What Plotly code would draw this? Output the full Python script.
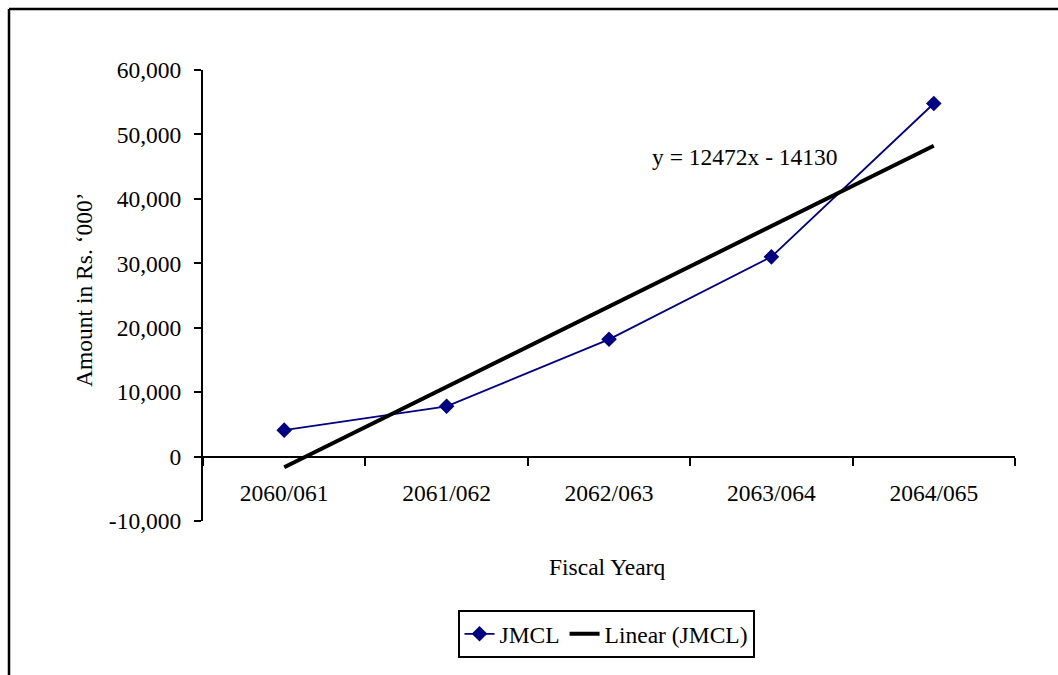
import plotly.graph_objects as go

# Fiscal years and JMCL amounts (Rs. '000')
years = ["2060/061", "2061/062", "2062/063", "2063/064", "2064/065"]
jmcl = [4100, 7800, 18200, 31000, 54800]

# Linear trend as stated in the equation label
slope = 12472
intercept = -14130
trend = [slope * (i + 1) + intercept for i in range(len(years))]

# Value axis ticks
y_ticks = [-10000, 0, 10000, 20000, 30000, 40000, 50000, 60000]
y_tick_text = ["-10,000", "0", "10,000", "20,000", "30,000", "40,000", "50,000", "60,000"]

FONT = "Liberation Serif"
FS = 23.5
W, H = 1058, 675
L, R, T, B = 203, 43, 70, 154
Y_MIN, Y_MAX = -10000, 60000

fig = go.Figure()
fig.add_trace(go.Scatter(
    x=years, y=jmcl, name="JMCL", mode="lines+markers",
    line=dict(color="#000080", width=1.8),
    marker=dict(symbol="diamond", size=12, color="#000080"),
))
fig.add_trace(go.Scatter(
    x=years, y=trend, name="Linear (JMCL)", mode="lines",
    line=dict(color="black", width=4),
))

pw = W - L - R
ph = H - T - B
def px_x(p):
    return (p - L) / pw
def px_y(p):
    return (H - B - p) / ph

fig.update_layout(
    width=W, height=H,
    margin=dict(l=L, r=R, t=T, b=B),
    paper_bgcolor="white", plot_bgcolor="white",
    font=dict(family=FONT, size=FS, color="black"),
    showlegend=True,
    legend=dict(
        orientation="h", x=px_x(606), xanchor="center", y=px_y(610), yanchor="top",
        bordercolor="black", borderwidth=2, font=dict(size=FS, family=FONT),
        tracegroupgap=0,
    ),
    xaxis=dict(
        type="category", range=[-0.5, 4.5], tickson="boundaries",
        anchor="free", position=(0 - Y_MIN) / (Y_MAX - Y_MIN),
        showline=True, linecolor="black", linewidth=2,
        ticks="outside", ticklen=8, tickwidth=2, tickcolor="black",
        ticklabelstandoff=15,
        showgrid=False, zeroline=False,
        tickfont=dict(family=FONT, size=FS),
    ),
    yaxis=dict(
        range=[Y_MIN, Y_MAX], tickvals=y_ticks, ticktext=y_tick_text,
        showline=True, linecolor="black", linewidth=2,
        ticks="outside", ticklen=7, tickwidth=2, tickcolor="black",
        ticklabelstandoff=8,
        showgrid=False, zeroline=False,
        tickfont=dict(family=FONT, size=FS),
    ),
    annotations=[
        dict(text="y = 12472x - 14130", x=px_x(745), y=px_y(157), xref="paper", yref="paper",
             xanchor="center", yanchor="middle",
             showarrow=False, font=dict(size=FS, family=FONT)),
        dict(text="Fiscal Yearq", x=px_x(607), y=px_y(567), xref="paper", yref="paper",
             xanchor="center", yanchor="middle",
             showarrow=False, font=dict(size=FS, family=FONT)),
        dict(text="Amount in Rs. \u2018000\u2019", x=px_x(84), y=px_y(290), xref="paper", yref="paper",
             xanchor="center", yanchor="middle",
             showarrow=False, textangle=-90, font=dict(size=FS, family=FONT)),
    ],
    shapes=[
        dict(type="line", xref="paper", yref="paper", x0=px_x(9), x1=px_x(9),
             y0=px_y(9), y1=px_y(700), line=dict(color="black", width=2.5)),
        dict(type="line", xref="paper", yref="paper", x0=px_x(9), x1=px_x(1070),
             y0=px_y(9), y1=px_y(9), line=dict(color="black", width=2.5)),
    ],
)

fig.write_html("out.html")
